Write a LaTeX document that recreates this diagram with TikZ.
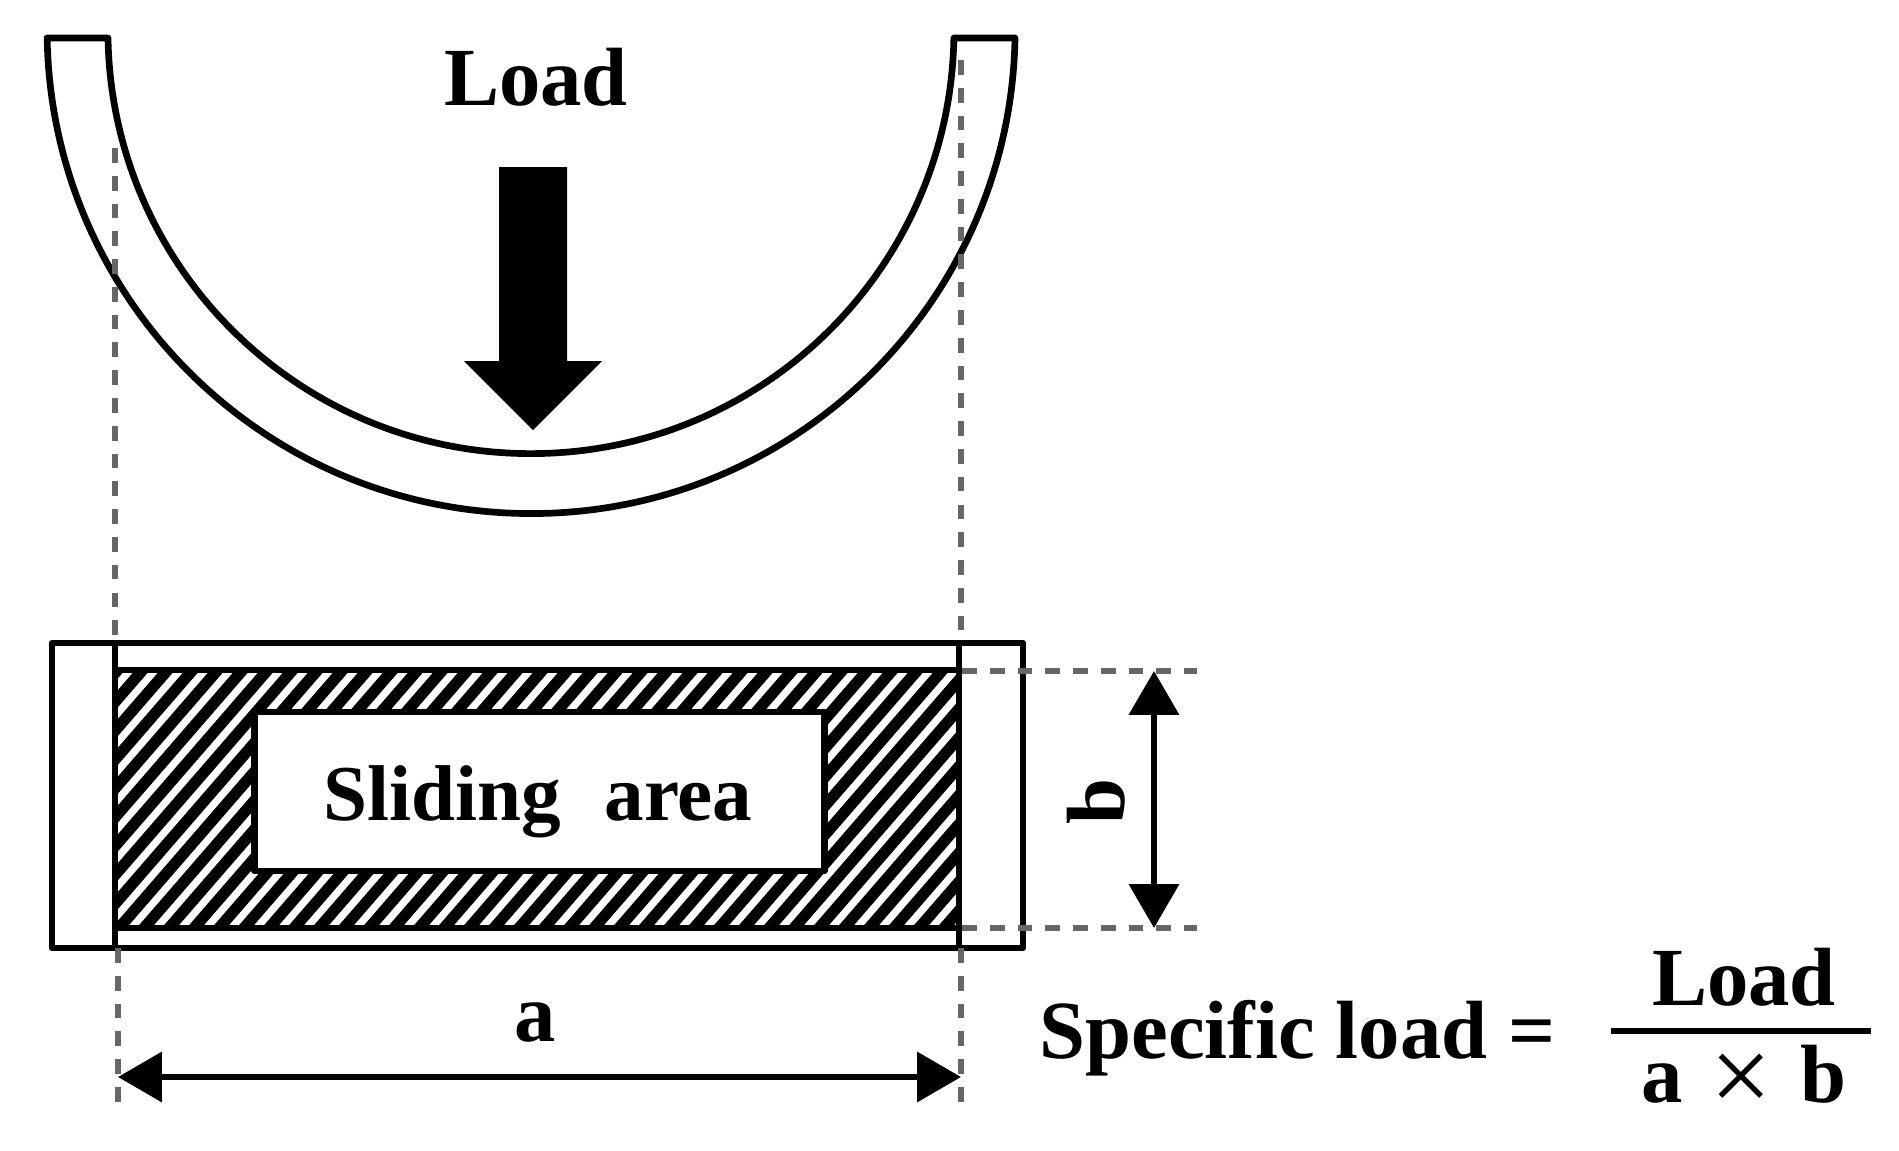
\documentclass[tikz,border=0pt]{standalone}
\usepackage{fontspec}
\setmainfont{Liberation Serif}
\usetikzlibrary{arrows.meta,positioning}

\begin{document}
\begin{tikzpicture}[x=0.01cm,y=-0.01cm,
  outline/.style={draw,line width=1.9pt,line join=round},
  guide/.style={draw=black!60,line width=1.6pt,dash pattern=on 4.2pt off 3.7pt},
  dim/.style={line width=1.8pt,{Triangle[length=12.5pt,width=14pt]}-{Triangle[length=12.5pt,width=14pt]}},
  label/.style={font=\fontsize{23.5}{28}\selectfont\bfseries}]
\useasboundingbox (0,0) rectangle (1899,1151);
% bearing shell
\draw[outline] (47,38) -- (108,38) arc[start angle=179,end angle=1,radius=423] -- (1015,38)
  arc[start angle=1,end angle=179,radius=484] -- cycle;
% load arrow
\fill (499,167) -- (567,167) -- (567,361) -- (602,361) -- (533,430) -- (464,361) -- (499,361) -- cycle;
\node[label] at (536,77) (load) {Load};
% sliding area
\begin{scope}
\clip (115,670) rectangle (959,928);
\foreach \i in {0,...,52} {
  \draw[line width=3.2pt] (-200+25*\i,950) -- ++(260,-300);
}
\end{scope}
\draw[outline] (115,670) rectangle (959,928);
\node[outline,fill=white,minimum width=5.69cm,minimum height=1.59cm] at (539.5,791.5) (area) {};
\node[font=\fontsize{22.5}{27}\selectfont\bfseries] at (538,802) (areatext) {Sliding\hspace{0.3em} area};
\draw[outline] (52,643) rectangle (1023,948);
\draw[outline] (115,643) -- (115,948);
\draw[outline] (959,643) -- (959,948);
% guide lines
\coordinate (g1) at (115,148);
\coordinate (g2) at (115,643);
\coordinate (g3) at (118,948);
\coordinate (g4) at (118,1114);
\coordinate (g5) at (961,60);
\coordinate (g6) at (961,643);
\coordinate (g7) at (961,948);
\coordinate (g8) at (961,1106);
\coordinate (g9) at (962,671);
\coordinate (g10) at (1197,671);
\coordinate (g11) at (962,928);
\coordinate (g12) at (1197,928);
\draw[guide] (g1) -- (g2);
\draw[guide] (g3) -- (g4);
\draw[guide] (g5) -- (g6);
\draw[guide] (g7) -- (g8);
\draw[guide] (g9) -- (g10);
\draw[guide] (g11) -- (g12);
% dimensions
\coordinate (a1) at (118,1077);
\coordinate (a2) at (961,1077);
\coordinate (b1) at (1154,671);
\coordinate (b2) at (1154,928);
\draw[dim] (a1) -- (a2);
\draw[dim] (b1) -- (b2);
\node[label] at (535,1023) (a) {a};
\node[label,rotate=90] at (1096,802) (b) {b};
% formula
\node[label,anchor=west,inner sep=0pt] at (1039,1038) (spec) {Specific load =};
\node[label] at (1744,977) (top) {Load};
\node[label] at (1744,1079) (bot) {a\hspace{0.34em}\raisebox{-0.12em}{\fontsize{31}{31}\selectfont\mdseries ×}\hspace{0.34em}b};
\draw[line width=1.5pt] (1611,1031) -- (1871,1031);
\end{tikzpicture}
\end{document}
